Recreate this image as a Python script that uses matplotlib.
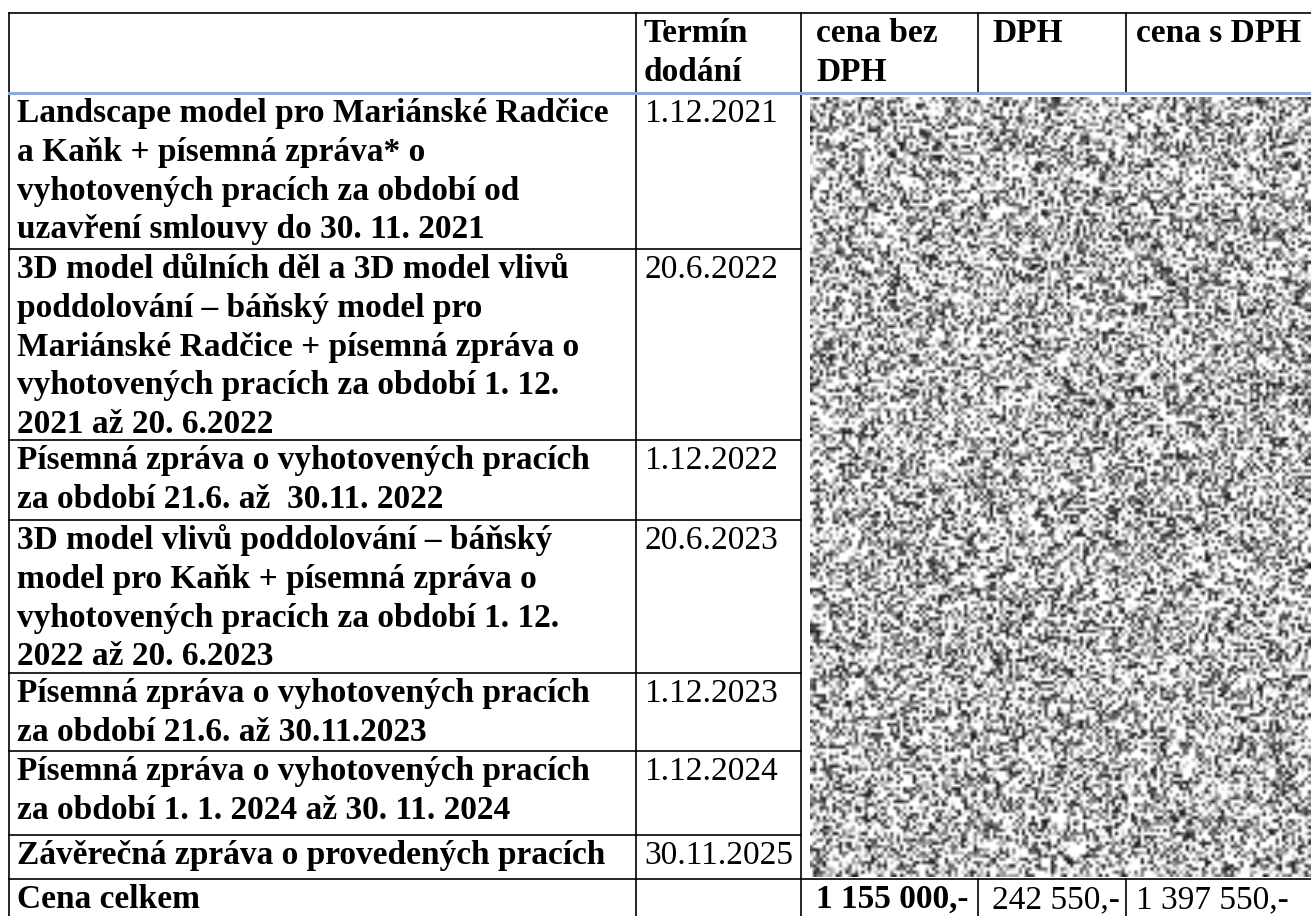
import matplotlib.pyplot as plt
import numpy as np

# table content
header = ["", "Termín\ndodání", "cena bez\nDPH", "DPH", "cena s DPH"]
items = [
    ["Landscape model pro Mariánské Radčice", "a Kaňk + písemná zpráva* o",
     "vyhotovených pracích za období od", "uzavření smlouvy do 30. 11. 2021"],
    ["3D model důlních děl a 3D model vlivů", "poddolování – báňský model pro",
     "Mariánské Radčice + písemná zpráva o", "vyhotovených pracích za období 1. 12.",
     "2021 až 20. 6.2022"],
    ["Písemná zpráva o vyhotovených pracích", "za období 21.6. až  30.11. 2022"],
    ["3D model vlivů poddolování – báňský", "model pro Kaňk + písemná zpráva o",
     "vyhotovených pracích za období 1. 12.", "2022 až 20. 6.2023"],
    ["Písemná zpráva o vyhotovených pracích", "za období 21.6. až 30.11.2023"],
    ["Písemná zpráva o vyhotovených pracích", "za období 1. 1. 2024 až 30. 11. 2024"],
    ["Závěrečná zpráva o provedených pracích"],
]
deadlines = ["1.12.2021", "20.6.2022", "1.12.2022", "20.6.2023",
             "1.12.2023", "1.12.2024", "30.11.2025"]
total_label = "Cena celkem"
totals = ["1 155 000,-", "242 550,-", "1 397 550,-"]
totals_bold = [True, False, False]

# layout in pixels
W, H = 1311, 916
cols = [9, 636, 801, 978, 1126]
top = 13
rows = [93, 249, 440, 520, 673, 751, 835, 879]
base = 29
pitch = 38.8
fs = 24
font = "Liberation Serif"

fig = plt.figure(figsize=(W / 100, H / 100), dpi=100)
ax = fig.add_axes([0, 0, 1, 1])
ax.set_xlim(0, W)
ax.set_ylim(H, 0)
ax.axis("off")

lw = 1.2
k = "black"

# redacted price block (texture only)
rng = np.random.default_rng(7)
nx0, ny0 = cols[2] + 9, rows[0] + 4
nx1, ny1 = W, rows[-1] - 2
r = rng.random((int((ny1 - ny0) / 3.2), int((nx1 - nx0) / 3.2)))
tex = 1 - 0.92 * np.clip((r - 0.42) / 0.58, 0, 1) ** 0.8
ax.imshow(tex, cmap="gray", vmin=0, vmax=1, interpolation="bilinear",
          extent=[nx0, nx1, ny1, ny0], aspect="auto", zorder=1)

# borders
ax.plot([cols[0], W], [top, top], color=k, lw=lw, zorder=3)
for x in cols:
    ax.plot([x, x], [top, rows[0]], color=k, lw=lw, zorder=3)
for x in cols[:3]:
    ax.plot([x, x], [rows[0], H], color=k, lw=lw, zorder=3)
for x in cols[3:]:
    ax.plot([x, x], [rows[-1], H], color=k, lw=lw, zorder=3)
for y in rows[1:-1]:
    ax.plot([cols[0], cols[2]], [y, y], color=k, lw=lw, zorder=3)
ax.plot([cols[0], W], [rows[-1], rows[-1]], color=k, lw=lw, zorder=3)
ax.plot([cols[0], W], [rows[0], rows[0]], color="#8eaadb", lw=2.2, zorder=4)

pads = [8, 8, 15, 14, 10]


def cell(x, y, lines, bold):
    for i, s in enumerate(lines):
        ax.text(x, y + base + i * pitch, s, fontsize=fs, family=font,
                fontweight="bold" if bold else "normal",
                ha="left", va="baseline", zorder=5)


for j, h in enumerate(header):
    if h:
        cell(cols[j] + pads[j], top, h.split("\n"), True)

for i, lines in enumerate(items):
    cell(cols[0] + pads[0], rows[i], lines, True)
    cell(cols[1] + pads[1], rows[i], [deadlines[i]], False)

cell(cols[0] + pads[0], rows[-1], [total_label], True)
for j, (v, b) in enumerate(zip(totals, totals_bold)):
    cell(cols[2 + j] + pads[2 + j], rows[-1], [v], b)

plt.savefig("out.png", dpi=100)
